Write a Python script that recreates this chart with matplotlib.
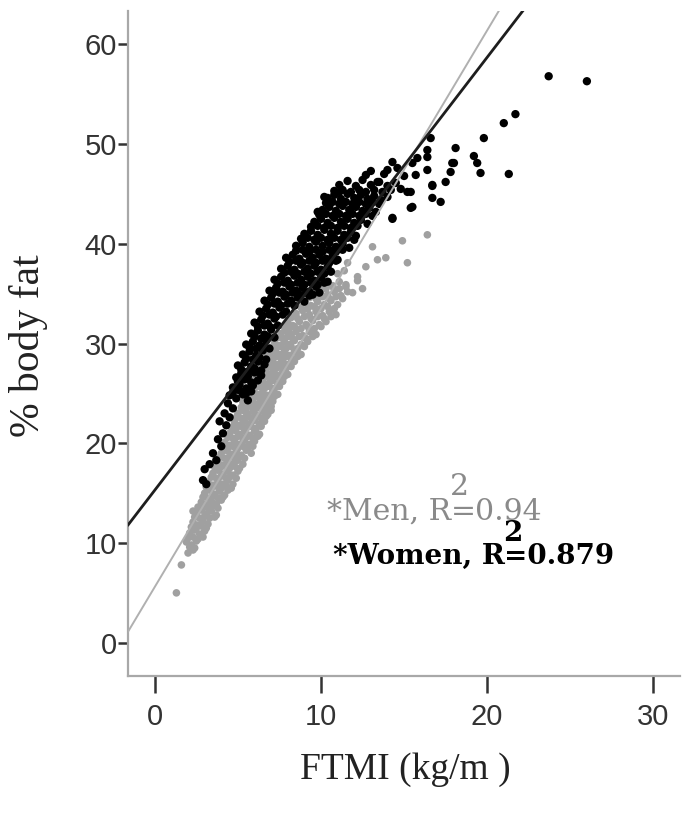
import numpy as np
import matplotlib
matplotlib.use('Agg')
import matplotlib.pyplot as plt

# Women (black points): FTMI, % body fat
women_pts = np.array([
    (2.9, 16.3), (3.1, 15.9), (3.0, 17.4), (3.3, 17.9), (3.7, 18.3), (3.5, 19.0), (4.0, 19.7),
    (3.8, 20.4), (4.1, 21.0), (3.9, 22.2), (4.3, 21.8), (4.2, 23.0), (4.5, 22.6), (4.4, 24.0), (4.7, 23.5),
    (4.5, 24.8), (4.9, 24.5), (5.3, 24.9), (5.6, 24.3), (4.7, 25.6), (5.1, 25.9), (5.5, 25.5), (5.9, 25.8),
    (4.9, 26.6), (5.2, 27.0), (5.6, 26.7), (6.0, 27.1), (6.4, 26.8), (5.0, 27.8), (5.4, 28.1), (5.8, 27.7),
    (6.2, 28.2), (6.6, 27.9),
    (5.3, 28.9), (5.7, 29.2), (6.1, 28.8), (6.5, 29.3), (5.5, 29.9), (5.9, 30.2), (6.3, 29.8),
    (6.7, 30.3),
    (5.8, 31.0), (6.2, 31.3), (6.6, 30.9), (7.0, 31.4), (6.0, 32.1), (6.4, 32.4),
    (6.8, 32.0), (7.2, 32.5),
    (6.3, 33.2), (6.7, 33.5), (7.1, 33.1), (7.5, 33.6), (7.9, 33.2), (6.6, 34.3),
    (7.0, 34.6), (7.4, 34.2), (7.8, 34.7), (8.2, 34.3), (8.6, 34.6), (9.0, 34.2), (9.3, 34.8),
    (6.9, 35.3), (7.3, 35.6), (7.7, 35.2), (8.1, 35.7), (8.5, 35.3), (8.9, 35.6), (9.3, 35.2), (9.7, 35.7),
    (7.2, 36.4), (7.6, 36.7), (8.0, 36.3), (8.4, 36.8), (8.8, 36.4), (9.2, 36.7), (9.6, 36.3), (10.0, 36.6),
    (10.4, 36.2),
    (7.6, 37.5), (8.0, 37.8), (8.4, 37.4), (8.8, 37.9), (9.2, 37.5), (9.6, 37.8), (10.0, 37.4), (10.4, 37.7),
    (7.9, 38.6), (8.3, 38.9), (8.7, 38.5), (9.1, 39.0), (9.5, 38.6), (9.9, 38.9), (10.3, 38.5), (10.7, 38.8),
    (11.0, 38.4),
    (8.5, 39.8), (8.9, 40.1), (9.3, 39.7), (9.7, 40.2), (10.1, 39.8), (10.5, 40.1), (10.9, 39.7), (11.3, 40.0),
    (11.7, 39.6), (9.0, 41.0), (9.4, 41.3), (9.8, 40.9), (10.2, 41.4), (10.6, 41.0), (11.0, 41.3), (11.4, 40.9),
    (11.8, 41.2), (12.1, 40.8),
    (9.6, 42.2), (10.0, 42.5), (10.4, 42.1), (10.8, 42.6), (11.2, 42.2), (11.6, 42.5), (12.0, 42.1), (12.4, 42.4),
    (12.8, 42.0), (10.1, 43.4), (10.5, 43.7), (10.9, 43.3), (11.3, 43.8), (11.7, 43.4), (12.1, 43.7), (12.5, 43.3),
    (12.9, 43.6), (13.3, 43.2),
    (10.4, 44.6), (10.8, 44.9), (11.2, 44.5), (11.6, 45.0), (12.0, 44.6), (12.4, 44.9), (12.8, 44.5), (13.2, 44.8),
    (13.6, 44.4), (14.0, 44.7), (11.1, 45.9), (11.6, 46.3), (12.1, 45.8), (12.5, 46.4), (13.0, 45.9), (13.5, 46.2),
    (14.0, 45.8), (14.5, 46.1),
    # in-between rows of the dense band
    (4.7, 25.1), (5.1, 25.3), (5.5, 25.0), (5.8, 25.2),
    (5.0, 26.2), (5.4, 26.4), (5.8, 26.1), (6.2, 26.3),
    (5.2, 27.4), (5.6, 27.2), (6.0, 27.5), (6.4, 27.3),
    (5.5, 28.5), (5.9, 28.4), (6.3, 28.6), (6.7, 28.4),
    (5.7, 29.6), (6.1, 29.5), (6.5, 29.7), (6.9, 29.5),
    (6.0, 30.7), (6.4, 30.5), (6.8, 30.7), (7.2, 30.6),
    (6.2, 31.7), (6.6, 31.8), (7.0, 31.6), (7.4, 31.8),
    (6.5, 32.8), (6.9, 32.9), (7.3, 32.7), (7.7, 32.9),
    (6.8, 33.9), (7.2, 34.0), (7.6, 33.8), (8.0, 34.0), (8.4, 33.8),
    (7.1, 35.0), (7.5, 35.1), (7.9, 34.9), (8.3, 35.1), (8.7, 34.9), (9.1, 35.1), (9.5, 34.9), (9.9, 35.1),
    (7.4, 36.0), (7.8, 36.1), (8.2, 35.9), (8.6, 36.1), (9.0, 35.9), (9.4, 36.1), (9.8, 35.9), (10.2, 36.1),
    (7.8, 37.1), (8.2, 37.2), (8.6, 37.0), (9.0, 37.2), (9.4, 37.0), (9.8, 37.2), (10.2, 37.0), (10.6, 37.2),
    (8.1, 38.2), (8.5, 38.3), (8.9, 38.1), (9.3, 38.3), (9.7, 38.1), (10.1, 38.3), (10.5, 38.1), (10.9, 38.3),
    (8.5, 39.3), (8.9, 39.4), (9.3, 39.2), (9.7, 39.4), (10.1, 39.2), (10.5, 39.4), (10.9, 39.2), (11.3, 39.4),
    (8.8, 40.5), (9.2, 40.6), (9.6, 40.4), (10.0, 40.6), (10.4, 40.4), (10.8, 40.6), (11.2, 40.4), (11.6, 40.6),
    (12.0, 40.4),
    (9.4, 41.7), (9.8, 41.8), (10.2, 41.6), (10.6, 41.8), (11.0, 41.6), (11.4, 41.8), (11.8, 41.6), (12.2, 41.8),
    (9.9, 42.9), (10.3, 43.0), (10.7, 42.8), (11.1, 43.0), (11.5, 42.8), (11.9, 43.0), (12.3, 42.8), (12.7, 43.0),
    (13.1, 42.8),
    (10.3, 44.1), (10.7, 44.2), (11.1, 44.0), (11.5, 44.2), (11.9, 44.0), (12.3, 44.2), (12.7, 44.0), (13.1, 44.2),
    (13.5, 44.0),
    (10.8, 45.3), (11.3, 45.4), (11.8, 45.2), (12.3, 45.4), (12.7, 45.2), (13.2, 45.4), (13.7, 45.2), (14.2, 45.4),
    # upper scatter and outliers
    (9.8, 43.2), (10.2, 44.7), (11.1, 45.2), (12.7, 46.9), (14.3, 48.2), (14.0, 47.4), (13.4, 46.2), (15.5, 43.7),
    (14.3, 42.6), (15.5, 48.1), (16.4, 47.4), (16.7, 45.9), (17.2, 44.2), (17.5, 46.2), (18.1, 49.6), (17.9, 48.1),
    (15.2, 45.2), (16.6, 50.6), (16.4, 48.7), (16.4, 49.4), (15.7, 46.9), (15.4, 45.2), (16.7, 44.6), (15.4, 43.6),
    (14.3, 42.5), (13.8, 47.0), (14.6, 47.6), (15.0, 46.8), (14.8, 45.5), (15.8, 48.6), (13.0, 47.3),
    (23.7, 56.8), (26.0, 56.3), (21.7, 53.0), (21.0, 52.1), (19.8, 50.6), (19.2, 48.8), (19.4, 48.1), (19.6, 47.1),
    (21.3, 47.0), (18.0, 48.1), (17.8, 47.2), (16.7, 45.8),
])

# Men (grey points)
men_pts = np.array([
    (1.3, 5.0), (1.6, 7.8), (2.0, 9.0), (2.3, 9.3), (1.9, 10.1), (2.2, 9.8), (2.5, 10.2),
    (2.1, 11.0), (2.4, 11.3), (2.7, 10.9), (3.0, 11.2), (2.3, 12.1), (2.6, 11.8), (2.9, 12.2), (3.2, 11.9),
    (2.5, 13.0), (2.8, 13.3), (3.1, 12.9), (3.4, 13.2), (3.7, 12.8), (2.3, 13.2),
    (2.8, 14.1), (3.1, 13.8), (3.4, 14.2), (3.7, 13.9), (4.0, 14.3),
    (3.0, 15.0), (3.3, 15.3), (3.6, 14.9), (3.9, 15.2), (4.2, 14.8), (4.4, 15.3),
    (3.2, 16.1), (3.5, 15.8), (3.8, 16.2), (4.1, 15.9), (4.4, 16.3), (4.7, 15.9),
    (3.5, 17.0), (3.8, 17.3), (4.1, 16.9), (4.4, 17.2), (4.7, 16.8), (5.0, 17.2),
    (3.8, 18.1), (4.1, 17.8), (4.4, 18.2), (4.7, 17.9), (5.0, 18.3), (5.3, 17.9),
    (4.0, 19.0), (4.3, 19.3), (4.6, 18.9), (4.9, 19.2), (5.2, 18.8), (5.5, 19.3), (5.8, 19.0),
    (4.2, 20.1), (4.5, 19.8), (4.8, 20.2), (5.1, 19.9), (5.4, 20.3), (5.7, 19.9), (6.0, 20.2),
    (4.5, 21.0), (4.8, 21.3), (5.1, 20.9), (5.4, 21.2), (5.7, 20.8), (6.0, 21.2), (6.3, 20.9),
    (4.8, 22.1), (5.1, 21.8), (5.4, 22.2), (5.7, 21.9), (6.0, 22.3), (6.3, 21.9), (6.6, 22.2),
    (5.0, 23.0), (5.3, 23.3), (5.6, 22.9), (5.9, 23.2), (6.2, 22.8), (6.5, 23.2), (6.8, 22.9), (7.0, 23.3),
    (5.3, 24.1), (5.6, 23.8), (5.9, 24.2), (6.2, 23.9), (6.5, 24.3), (6.8, 23.9), (7.1, 24.2),
    (5.6, 25.0), (5.9, 25.3), (6.2, 24.9), (6.5, 25.2), (6.8, 24.8), (7.1, 25.2), (7.4, 24.9),
    (5.9, 26.1), (6.2, 25.8), (6.5, 26.2), (6.8, 25.9), (7.1, 26.3), (7.4, 25.9), (7.7, 26.2),
    (6.2, 27.0), (6.5, 27.3), (6.8, 26.9), (7.1, 27.2), (7.4, 26.8), (7.7, 27.2), (8.0, 26.9),
    (6.5, 28.1), (6.8, 27.8), (7.1, 28.2), (7.4, 27.9), (7.7, 28.3), (8.0, 27.9), (8.4, 28.2),
    (6.9, 29.0), (7.2, 29.3), (7.5, 28.9), (7.8, 29.2), (8.1, 28.8), (8.4, 29.2), (8.8, 28.9),
    (7.2, 30.1), (7.5, 29.8), (7.8, 30.2), (8.1, 29.9), (8.4, 30.3), (8.8, 29.9), (9.2, 30.2),
    (7.6, 31.0), (7.9, 31.3), (8.2, 30.9), (8.5, 31.2), (8.9, 30.8), (9.3, 31.2), (9.7, 30.9),
    (8.0, 32.1), (8.3, 31.8), (8.7, 32.2), (9.1, 31.9), (9.5, 32.3), (9.9, 31.9), (10.3, 32.2),
    (8.5, 33.0), (8.9, 33.3), (9.3, 32.9), (9.7, 33.2), (10.1, 32.8), (10.5, 33.2), (10.9, 32.9),
    (9.0, 34.1), (9.4, 33.8), (9.8, 34.2), (10.2, 33.9), (10.6, 34.3), (11.0, 33.9),
    (9.6, 35.0), (10.0, 35.3), (10.4, 34.9), (10.8, 35.2), (11.2, 34.8), (11.6, 35.2),
    (10.3, 36.1), (10.7, 35.8), (11.1, 36.2), (11.5, 35.9), (12.2, 36.3),
    (11.0, 37.0), (11.4, 37.3), (12.7, 37.7),
    # in-between rows
    (2.1, 9.6), (2.4, 9.5),
    (2.0, 10.5), (2.3, 10.6), (2.6, 10.4), (2.9, 10.6),
    (2.2, 11.6), (2.5, 11.5), (2.8, 11.7), (3.1, 11.5),
    (2.4, 12.6), (2.7, 12.5), (3.0, 12.7), (3.3, 12.5), (3.6, 12.6),
    (2.6, 13.6), (2.9, 13.7), (3.2, 13.5), (3.5, 13.7), (3.8, 13.5),
    (2.9, 14.6), (3.2, 14.5), (3.5, 14.7), (3.8, 14.5), (4.1, 14.6),
    (3.1, 15.6), (3.4, 15.5), (3.7, 15.7), (4.0, 15.5), (4.3, 15.7), (4.6, 15.5),
    (3.4, 16.6), (3.7, 16.5), (4.0, 16.7), (4.3, 16.5), (4.6, 16.7), (4.9, 16.5),
    (3.6, 17.6), (3.9, 17.5), (4.2, 17.7), (4.5, 17.5), (4.8, 17.7), (5.1, 17.5),
    (3.9, 18.6), (4.2, 18.5), (4.5, 18.7), (4.8, 18.5), (5.1, 18.7), (5.4, 18.5),
    (4.1, 19.6), (4.4, 19.5), (4.7, 19.7), (5.0, 19.5), (5.3, 19.7), (5.6, 19.5), (5.9, 19.7),
    (4.4, 20.6), (4.7, 20.5), (5.0, 20.7), (5.3, 20.5), (5.6, 20.7), (5.9, 20.5), (6.2, 20.7),
    (4.6, 21.6), (4.9, 21.5), (5.2, 21.7), (5.5, 21.5), (5.8, 21.7), (6.1, 21.5), (6.4, 21.7),
    (4.9, 22.6), (5.2, 22.5), (5.5, 22.7), (5.8, 22.5), (6.1, 22.7), (6.4, 22.5), (6.7, 22.7),
    (5.2, 23.6), (5.5, 23.5), (5.8, 23.7), (6.1, 23.5), (6.4, 23.7), (6.7, 23.5), (7.0, 23.7),
    (5.4, 24.6), (5.7, 24.5), (6.0, 24.7), (6.3, 24.5), (6.6, 24.7), (6.9, 24.5), (7.2, 24.7),
    (5.7, 25.6), (6.0, 25.5), (6.3, 25.7), (6.6, 25.5), (6.9, 25.7), (7.2, 25.5), (7.5, 25.7),
    (6.0, 26.6), (6.3, 26.5), (6.6, 26.7), (6.9, 26.5), (7.2, 26.7), (7.5, 26.5), (7.8, 26.7),
    (6.4, 27.6), (6.7, 27.5), (7.0, 27.7), (7.3, 27.5), (7.6, 27.7), (7.9, 27.5), (8.2, 27.7),
    (6.7, 28.6), (7.0, 28.5), (7.3, 28.7), (7.6, 28.5), (7.9, 28.7), (8.2, 28.5), (8.6, 28.7),
    (7.0, 29.6), (7.3, 29.5), (7.6, 29.7), (7.9, 29.5), (8.2, 29.7), (8.6, 29.5), (9.0, 29.7),
    (7.4, 30.6), (7.7, 30.5), (8.0, 30.7), (8.3, 30.5), (8.7, 30.7), (9.1, 30.5), (9.5, 30.7),
    (7.8, 31.6), (8.1, 31.5), (8.4, 31.7), (8.8, 31.5), (9.2, 31.7), (9.6, 31.5), (10.0, 31.7),
    (8.2, 32.6), (8.6, 32.5), (9.0, 32.7), (9.4, 32.5), (9.8, 32.7), (10.2, 32.5), (10.6, 32.7),
    (8.8, 33.6), (9.2, 33.5), (9.6, 33.7), (10.0, 33.5), (10.4, 33.7), (10.8, 33.5),
    (9.3, 34.6), (9.7, 34.5), (10.1, 34.7), (10.5, 34.5), (10.9, 34.7), (11.3, 34.5),
    (9.9, 35.6), (10.3, 35.5), (10.7, 35.7), (11.1, 35.5), (11.5, 35.7),
    # scattered men above the band
    (11.9, 35.1), (12.2, 36.7), (11.6, 38.1), (13.1, 39.7), (13.4, 38.4), (13.9, 38.6), (15.2, 38.1),
    (14.9, 40.3), (16.4, 40.9), (12.5, 35.5),
])

# fitted lines: (intercept, slope)
women_fit = (15.3, 2.17)
men_fit = (5.6, 2.79)

men_label = ['*Men, R', '2', '=0.94']
women_label = ['*Women, R', '2', '=0.879']

x_ticks = [0, 10, 20, 30]
y_ticks = [0, 10, 20, 30, 40, 50, 60]
x_lim = (-1.6, 31.6)
y_lim = (-3.3, 63.3)

fig = plt.figure(figsize=(6.82, 8.15), dpi=100)
ax = fig.add_axes([0.188, 0.171, 0.809, 0.815])

ax.scatter(men_pts[:, 0], men_pts[:, 1], s=30, color='#a0a0a0', edgecolors='none', zorder=2)
ax.scatter(women_pts[:, 0], women_pts[:, 1], s=36, color='black', edgecolors='none', zorder=3)

xx = np.array([x_lim[0], x_lim[1]])
ax.plot(xx, men_fit[0] + men_fit[1] * xx, color='#b0b0b0', lw=1.4, zorder=4)
ax.plot(xx, women_fit[0] + women_fit[1] * xx, color='#1e1e1e', lw=2.0, zorder=4)

ax.set_xlim(*x_lim)
ax.set_ylim(*y_lim)
ax.set_xticks(x_ticks)
ax.set_yticks(y_ticks)

for s in ['top', 'right']:
    ax.spines[s].set_visible(False)
for s in ['left', 'bottom']:
    ax.spines[s].set_color('#a8a8a8')
    ax.spines[s].set_linewidth(1.6)

ax.tick_params(axis='y', direction='out', length=7, width=1.8, color='#333333',
               labelsize=21, pad=1, labelcolor='#333333')
ax.tick_params(axis='x', direction='out', length=12, width=1.8, color='#333333',
               labelsize=21, pad=8, labelcolor='#333333')
for lab in ax.get_xticklabels() + ax.get_yticklabels():
    lab.set_family('Liberation Sans')

fig.text(405 / 682, 1 - 770 / 815, 'FTMI (kg/m )', family='Liberation Serif',
         fontsize=27, ha='center', va='center', color='#222222')
fig.text(29 / 682, 1 - 346 / 815, '% body fat', family='Liberation Serif',
         fontsize=30, ha='center', va='center', rotation=90, color='#222222')


def r2_text(x, y, parts, color, weight, size, sup_dy):
    t1 = ax.text(x, y, parts[0], family='DejaVu Serif', fontsize=size,
                 color=color, weight=weight, ha='left', va='baseline', zorder=5)
    ax.annotate(parts[1], xy=(1, 1), xycoords=t1, xytext=(-1, sup_dy), textcoords='offset points',
                family='DejaVu Serif', fontsize=size, color=color, weight=weight,
                ha='left', va='bottom', zorder=5)
    ax.annotate(parts[2], xy=(1, 0), xycoords=t1, xytext=(0, 0), textcoords='offset points',
                family='DejaVu Serif', fontsize=size, color=color, weight=weight,
                ha='left', va='bottom', zorder=5)


r2_text(10.36, 12.3, men_label, '#8a8a8a', 'normal', 21.5, -2)
r2_text(10.7, 7.9, women_label, 'black', 'bold', 20, -3)

fig.savefig('out.png', dpi=100)
